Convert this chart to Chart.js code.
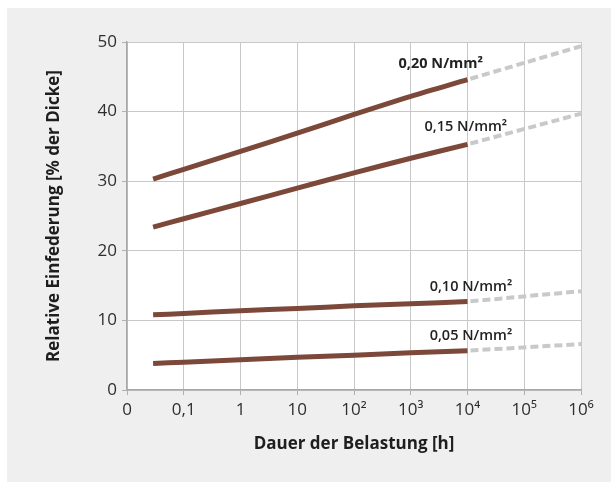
<!DOCTYPE html>
<html>
<head>
<meta charset="utf-8">
<script src="https://cdn.jsdelivr.net/npm/chart.js@4.4.0/dist/chart.umd.min.js"></script>
<style>
  html, body { margin: 0; padding: 0; background: #ffffff; }
  #wrap { position: absolute; left: 0; top: 0; width: 611px; height: 482px; }
</style>
</head>
<body>
<div id="wrap"><canvas id="c" width="611" height="482"></canvas></div>
<script>
// ---- data ----
const xTickLabels = ['0', '0,1', '1', '10', '10²', '10³', '10⁴', '10⁵', '10⁶'];
const xSolid = [0.46, 1, 2, 3, 4, 5, 6];      // position on the decade axis
const xDashed = [6, 8];
const series20 = [30.3, 31.7, 34.3, 36.9, 39.6, 42.2, 44.6];
const series15 = [23.4, 24.6, 26.8, 29.0, 31.2, 33.3, 35.3];
const series10 = [10.8, 11.0, 11.4, 11.7, 12.1, 12.4, 12.7];
const series05 = [3.8, 4.0, 4.35, 4.7, 5.0, 5.35, 5.65];
const dashed20 = [44.6, 49.4];
const dashed15 = [35.3, 39.7];
const dashed10 = [12.7, 14.2];
const dashed05 = [5.65, 6.6];
const seriesNames = ['0,20 N/mm²', '0,15 N/mm²', '0,10 N/mm²', '0,05 N/mm²'];

function pts(xs, ys) { return xs.map((x, i) => ({ x: x, y: ys[i] })); }

const BROWN = '#7c4839';
const DASHGREY = '#c9c9c9';
const FONT = "'Open Sans', 'DejaVu Sans', sans-serif";

const solidStyle = { borderColor: BROWN, borderWidth: 5, pointRadius: 0, borderCapStyle: 'butt', tension: 0.3, fill: false };
const dashStyle = { borderColor: DASHGREY, borderWidth: 4, pointRadius: 0, borderDash: [8, 4], borderDashOffset: 9, borderCapStyle: 'butt', fill: false };

const datasets = [
  Object.assign({ label: seriesNames[0], data: pts(xSolid, series20) }, solidStyle),
  Object.assign({ label: seriesNames[1], data: pts(xSolid, series15) }, solidStyle),
  Object.assign({ label: seriesNames[2], data: pts(xSolid, series10) }, solidStyle),
  Object.assign({ label: seriesNames[3], data: pts(xSolid, series05) }, solidStyle),
  Object.assign({ label: seriesNames[0] + ' ext', data: pts(xDashed, dashed20) }, dashStyle),
  Object.assign({ label: seriesNames[1] + ' ext', data: pts(xDashed, dashed15) }, dashStyle),
  Object.assign({ label: seriesNames[2] + ' ext', data: pts(xDashed, dashed10) }, dashStyle),
  Object.assign({ label: seriesNames[3] + ' ext', data: pts(xDashed, dashed05) }, dashStyle)
];

const bgPlugin = {
  id: 'bg',
  beforeDraw(chart) {
    const ctx = chart.ctx;
    const a = chart.chartArea;
    ctx.save();
    ctx.fillStyle = '#ffffff';
    ctx.fillRect(0, 0, chart.width, chart.height);
    ctx.fillStyle = '#efefef';
    ctx.fillRect(7, 8, chart.width - 7, chart.height - 8);
    ctx.fillStyle = '#ffffff';
    ctx.fillRect(a.left, a.top, a.right - a.left, a.bottom - a.top);
    ctx.restore();
  }
};

// series labels placed next to the line ends (value-space anchors)
const labelAnchors = [
  { text: seriesNames[0], x: 5.53, y: 46.8, weight: '700' },
  { text: seriesNames[1], x: 5.97, y: 37.8, weight: '600' },
  { text: seriesNames[2], x: 6.06, y: 14.8, weight: '600' },
  { text: seriesNames[3], x: 6.06, y: 7.8, weight: '600' }
];
const labelPlugin = {
  id: 'seriesLabels',
  afterDatasetsDraw(chart) {
    const ctx = chart.ctx;
    const xs = chart.scales.x, ys = chart.scales.y;
    ctx.save();
    ctx.fillStyle = '#222222';
    ctx.textAlign = 'center';
    ctx.textBaseline = 'middle';
    labelAnchors.forEach(l => {
      ctx.font = l.weight + ' 14.5px ' + FONT;
      ctx.fillText(l.text, xs.getPixelForValue(l.x), ys.getPixelForValue(l.y));
    });
    ctx.restore();
  }
};

new Chart(document.getElementById('c'), {
  type: 'line',
  data: { datasets: datasets },
  plugins: [bgPlugin, labelPlugin],
  options: {
    responsive: false,
    animation: false,
    devicePixelRatio: 1,
    layout: { padding: { top: 42, right: 30, left: 0, bottom: 0 } },
    plugins: { legend: { display: false }, tooltip: { enabled: false } },
    scales: {
      x: {
        type: 'linear',
        min: 0, max: 8,
        afterFit(s) { s.height = 92; },
        afterBuildTicks(s) { s.ticks = xTickLabels.map((_, i) => ({ value: i })); },
        ticks: {
          autoSkip: false,
          maxRotation: 0,
          padding: 5,
          color: '#2e2e2e',
          font: { family: FONT, size: 17 },
          callback: (v) => xTickLabels[v]
        },
        grid: { color: '#c8c8c8', lineWidth: 1, tickLength: 5, tickColor: '#b0b0b0' },
        border: { color: '#a8a8a8', width: 1.5 },
        title: {
          display: true,
          text: 'Dauer der Belastung [h]',
          color: '#1e1e1e',
          font: { family: FONT, size: 17, weight: '700' },
          padding: { top: 0, bottom: 28 }
        }
      },
      y: {
        type: 'linear',
        min: 0, max: 50,
        afterFit(s) { s.width = 127; },
        ticks: {
          stepSize: 10,
          padding: 5,
          color: '#2e2e2e',
          font: { family: FONT, size: 17 }
        },
        grid: { color: '#c8c8c8', lineWidth: 1, tickLength: 5, tickColor: '#b0b0b0' },
        border: { color: '#a8a8a8', width: 1.5 },
        title: {
          display: true,
          text: 'Relative Einfederung [% der Dicke]',
          color: '#1e1e1e',
          font: { family: FONT, size: 17, weight: '700' },
          padding: { top: 44, bottom: 0 }
        }
      }
    }
  }
});
</script>
</body>
</html>
